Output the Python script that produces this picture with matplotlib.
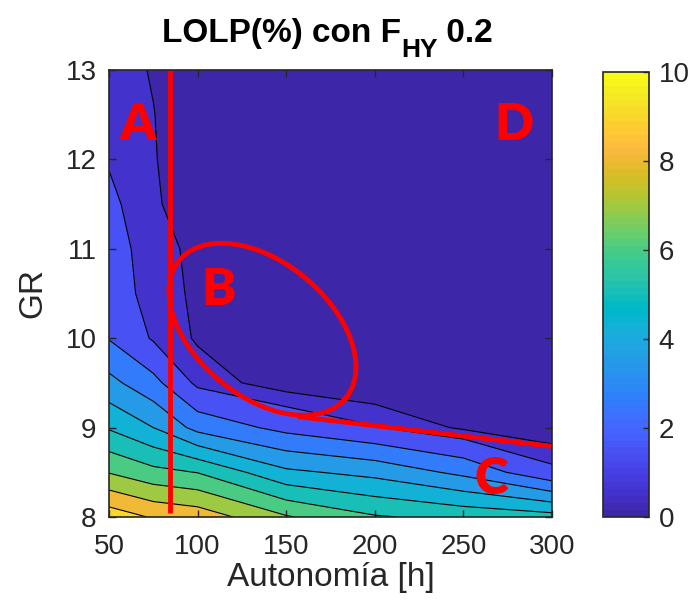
import numpy as np
import matplotlib
matplotlib.use("Agg")
import matplotlib.pyplot as plt
from matplotlib.colors import ListedColormap, Normalize
from matplotlib.cm import ScalarMappable

plt.rcParams['font.family'] = ['Liberation Sans', 'DejaVu Sans']

# MATLAB parula (64 colores)
parula = [
    [0.2422, 0.1504, 0.6603], [0.2504, 0.1650, 0.7076], [0.2578, 0.1818, 0.7511],
    [0.2647, 0.1978, 0.7952], [0.2706, 0.2147, 0.8364], [0.2751, 0.2342, 0.8710],
    [0.2783, 0.2559, 0.8991], [0.2803, 0.2782, 0.9221], [0.2813, 0.3006, 0.9414],
    [0.2810, 0.3228, 0.9579], [0.2795, 0.3447, 0.9717], [0.2760, 0.3667, 0.9829],
    [0.2699, 0.3892, 0.9906], [0.2602, 0.4123, 0.9952], [0.2440, 0.4358, 0.9988],
    [0.2206, 0.4603, 0.9973], [0.1963, 0.4847, 0.9892], [0.1834, 0.5074, 0.9798],
    [0.1786, 0.5289, 0.9682], [0.1764, 0.5499, 0.9520], [0.1687, 0.5703, 0.9359],
    [0.1540, 0.5902, 0.9218], [0.1460, 0.6091, 0.9079], [0.1380, 0.6276, 0.8973],
    [0.1248, 0.6459, 0.8883], [0.1113, 0.6635, 0.8763], [0.0952, 0.6798, 0.8598],
    [0.0689, 0.6948, 0.8394], [0.0297, 0.7082, 0.8163], [0.0036, 0.7203, 0.7917],
    [0.0067, 0.7312, 0.7660], [0.0433, 0.7411, 0.7394], [0.0964, 0.7500, 0.7120],
    [0.1408, 0.7584, 0.6842], [0.1717, 0.7670, 0.6554], [0.1938, 0.7758, 0.6251],
    [0.2161, 0.7843, 0.5923], [0.2470, 0.7918, 0.5567], [0.2906, 0.7973, 0.5188],
    [0.3406, 0.8008, 0.4789], [0.3909, 0.8029, 0.4354], [0.4456, 0.8024, 0.3909],
    [0.5044, 0.7993, 0.3480], [0.5616, 0.7942, 0.3045], [0.6174, 0.7876, 0.2612],
    [0.6720, 0.7793, 0.2227], [0.7242, 0.7698, 0.1910], [0.7738, 0.7598, 0.1646],
    [0.8203, 0.7498, 0.1535], [0.8634, 0.7406, 0.1596], [0.9035, 0.7330, 0.1774],
    [0.9393, 0.7288, 0.2100], [0.9728, 0.7298, 0.2394], [0.9956, 0.7434, 0.2371],
    [0.9970, 0.7659, 0.2199], [0.9952, 0.7893, 0.2028], [0.9892, 0.8136, 0.1885],
    [0.9786, 0.8386, 0.1766], [0.9676, 0.8639, 0.1643], [0.9610, 0.8890, 0.1537],
    [0.9597, 0.9135, 0.1423], [0.9628, 0.9373, 0.1265], [0.9691, 0.9606, 0.1064],
    [0.9769, 0.9839, 0.0805]]
cmap = ListedColormap(parula)

# Datos
autonomia = [50, 75, 100, 150, 200, 250, 300]
gr = [8.0, 8.5, 9.0, 9.5, 10.0, 10.5, 11.0, 11.5, 12.0, 12.5, 13.0]
lolp = [
    [9.60, 8.90, 8.60, 7.10, 6.10, 5.70, 5.40],
    [6.95, 6.30, 5.97, 4.20, 3.70, 2.75, 1.20],
    [4.90, 4.00, 2.67, 1.70, 1.05, 0.40, 0.10],
    [3.30, 2.30, 0.80, 0.20, 0.00, 0.00, 0.00],
    [1.95, 0.90, 0.435, 0.00, 0.00, 0.00, 0.00],
    [1.60, 0.60, 0.46, 0.00, 0.00, 0.00, 0.00],
    [1.35, 0.65, 0.40, 0.00, 0.00, 0.00, 0.00],
    [1.15, 0.60, 0.10, 0.00, 0.00, 0.00, 0.00],
    [0.95, 0.55, 0.00, 0.00, 0.00, 0.00, 0.00],
    [0.85, 0.52, 0.00, 0.00, 0.00, 0.00, 0.00],
    [0.80, 0.45, 0.00, 0.00, 0.00, 0.00, 0.00],
]
niveles = [0.5, 1, 2, 3, 4, 5, 6, 7, 8, 9]
tono_banda = [0.0, 0.05, 0.15, 0.25, 0.35, 0.43, 0.5, 0.6, 0.7, 0.8, 0.9]

X, Y = np.meshgrid(autonomia, gr)
Z = np.array(lolp)

fig = plt.figure(figsize=(6.92, 6.14), dpi=100)
ax = fig.add_axes([109/692, 97/614, 443/692, 447/614])
cax = fig.add_axes([603/692, 97/614, 46/692, 445/614])

colores = [cmap(c) for c in tono_banda]
ax.contourf(X, Y, Z, levels=[-1] + niveles + [11], colors=colores)
ax.contour(X, Y, Z, levels=niveles, colors='k', linewidths=0.8)

ax.set_xlim(50, 300)
ax.set_ylim(8, 13)
ax.set_xticks([50, 100, 150, 200, 250, 300])
ax.set_yticks([8, 9, 10, 11, 12, 13])
gris = '#262626'
ax.tick_params(direction='in', top=True, right=True, labelsize=20,
               colors=gris, length=5, width=1)
ax.tick_params(axis='x', pad=12)
ax.tick_params(axis='y', pad=9)
for s in ax.spines.values():
    s.set_color(gris)
    s.set_linewidth(1.2)
ax.set_xlabel('Autonomía [h]', fontsize=24, color=gris, labelpad=2)
ax.set_ylabel('GR', fontsize=24, color=gris, labelpad=12)

# titulo con subindice estilo MATLAB (partes separadas)
rend = fig.canvas.get_renderer()
partes = [('LOLP(%) con F', 24, 0), ('HY', 19, 15), (' 0.2', 24, 0)]
objs = []
for txt, fs, baja in partes:
    o = fig.text(0, 1 - (42 + baja)/614, txt, fontsize=fs, fontweight='bold',
                 color='k', va='baseline', ha='left')
    objs.append(o)
anchos = [o.get_window_extent(rend).width for o in objs]
x0 = 327.5 - sum(anchos)/2
for o, w in zip(objs, anchos):
    o.set_x(x0/692)
    x0 += w

# anotaciones en rojo
rojo = '#FF0000'
ax.plot([84.7, 84.7], [8.04, 13], color=rojo, lw=3.5, solid_capstyle='butt')
ax.plot([158, 300], [9.12, 8.79], color=rojo, lw=3.5)
t = np.linspace(0, 2*np.pi, 300)
th = np.deg2rad(-39.6)
a_px, b_px = 108, 66.9
px = a_px*np.cos(th)*np.cos(t) - b_px*np.sin(th)*np.sin(t)
py = a_px*np.sin(th)*np.cos(t) + b_px*np.cos(th)*np.sin(t)
ax.plot(136.6 + px*250/443, 10.10 + py*5/447, color=rojo, lw=3.5)

letras = ['A', 'B', 'C', 'D']
letra_x = [66.5, 112.1, 265.5, 278.8]
letra_y = [12.38, 10.54, 8.43, 12.38]
for l, lx, ly in zip(letras, letra_x, letra_y):
    ax.text(lx, ly, l, color=rojo, fontsize=37, fontweight='heavy',
            family='Lato', ha='center', va='center')

sm = ScalarMappable(norm=Normalize(0, 10), cmap=cmap)
cb = fig.colorbar(sm, cax=cax, ticks=[0, 2, 4, 6, 8, 10])
cb.outline.set_edgecolor(gris)
cb.outline.set_linewidth(1.2)
cax.tick_params(direction='in', labelsize=20, colors=gris, length=4, width=1,
                pad=7)

fig.savefig('out.png', dpi=100)
